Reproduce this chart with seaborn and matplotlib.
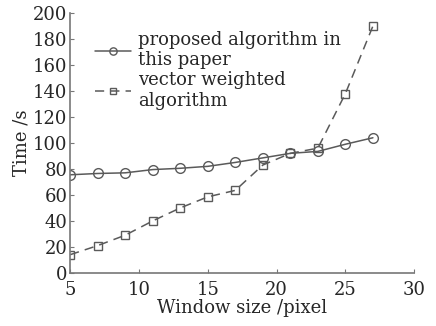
import matplotlib
matplotlib.use("Agg")
import matplotlib.pyplot as plt
import seaborn as sns
import pandas as pd

window = [5, 7, 9, 11, 13, 15, 17, 19, 21, 23, 25, 27]
proposed = [75.5, 76.5, 77, 79.5, 80.5, 82, 85, 88.5, 92, 93.5, 99, 104]
vector_weighted = [14, 21, 29, 40, 50, 58.5, 63.5, 83, 92, 96, 138, 190]

sns.set_style("ticks")
plt.rcParams["font.family"] = ["DejaVu Serif"]
plt.rcParams["xtick.direction"] = "in"
plt.rcParams["ytick.direction"] = "in"

df = pd.DataFrame({"window": window, "proposed": proposed, "vector": vector_weighted})

fig = plt.figure(figsize=(4.36, 3.26), dpi=100)
ax = fig.add_axes([0.161, 0.163, 0.789, 0.797])

c = "#5a5a5a"
sns.lineplot(data=df, x="window", y="proposed", ax=ax, color=c, lw=1.1,
             marker="o", markersize=7, markerfacecolor="none",
             markeredgecolor=c, markeredgewidth=1.0,
             label="proposed algorithm in\nthis paper")
sns.lineplot(data=df, x="window", y="vector", ax=ax, color=c, lw=1.1,
             linestyle=(0, (6, 4)), marker="s", markersize=5.5,
             markerfacecolor="none", markeredgecolor=c, markeredgewidth=1.0,
             label="vector weighted\nalgorithm")

ax.set_xlim(5, 30)
ax.set_ylim(0, 200)
ax.set_xticks(range(5, 31, 5))
ax.set_yticks(range(0, 201, 20))
ax.tick_params(labelsize=13, length=3, color="#777777")
ax.tick_params(axis="y", pad=2)
ax.tick_params(axis="x", pad=6)
ax.set_xlabel("Window size /pixel", fontsize=13, labelpad=0)
ax.set_ylabel("Time /s", fontsize=13, labelpad=2)
for s in ("top", "right"):
    ax.spines[s].set_visible(False)
for s in ("left", "bottom"):
    ax.spines[s].set_color("#777777")
    ax.spines[s].set_linewidth(1.2)

ax.legend(loc="upper left", bbox_to_anchor=(0.05, 0.96), frameon=False,
          fontsize=13, handlelength=2.0, handletextpad=0.4, markerscale=0.75,
          labelspacing=0.1, borderaxespad=0)

fig.savefig("out.png", dpi=100)
